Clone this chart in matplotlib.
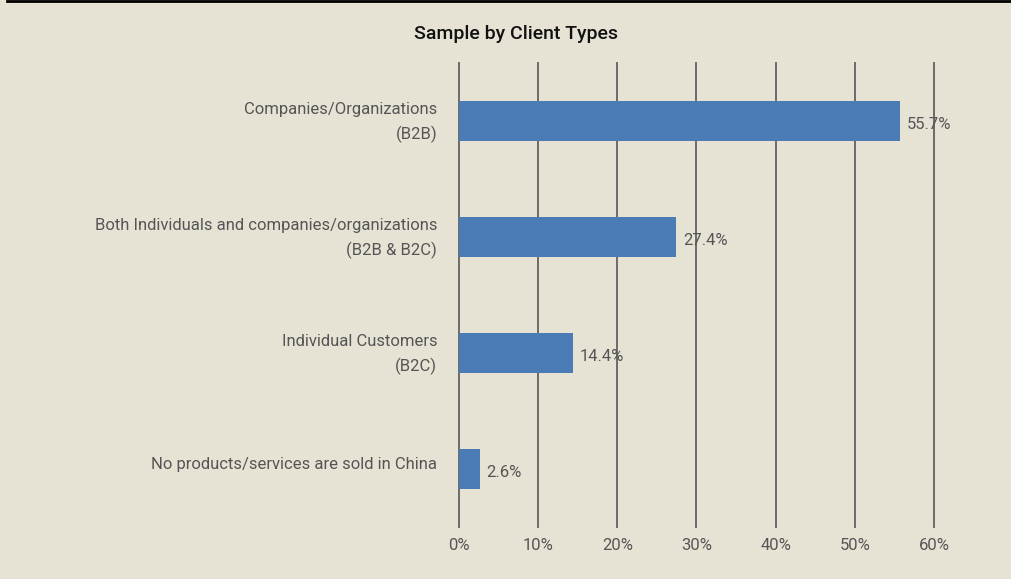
import matplotlib
matplotlib.use("Agg")
import matplotlib.pyplot as plt
from matplotlib.ticker import FuncFormatter

categories = [
    "Companies/Organizations\n(B2B)",
    "Both Individuals and companies/organizations\n(B2B & B2C)",
    "Individual Customers\n(B2C)",
    "No products/services are sold in China",
]
values = [55.7, 27.4, 14.4, 2.6]
xticks = [0, 10, 20, 30, 40, 50, 60]

bg = "#E7E3D4"
bar_color = "#4A7BB4"
text_color = "#555555"
plt.rcParams["font.family"] = ["Roboto", "DejaVu Sans"]

fig = plt.figure(figsize=(10.12, 5.79), dpi=100, facecolor=bg)
ax = fig.add_axes([459 / 1012, 1 - 527 / 579, 475 / 1012, 464 / 579])
ax.set_facecolor(bg)

ypos = list(range(len(categories)))
ax.barh(ypos, values, height=0.345, color=bar_color, zorder=3)
for y, v in zip(ypos, values):
    ax.text(v + 0.9, y + 0.03, f"{v:.1f}%", va="center", ha="left",
            fontsize=12, color=text_color, zorder=4)

# category labels, drawn as text so they can sit slightly above the bar centre
ytrans = ax.get_yaxis_transform()
for y, cat in zip(ypos, categories):
    dy = 0.012 if "\n" in cat else -0.037
    ax.text(-0.046, y + dy, cat, transform=ytrans, ha="right", va="center",
            multialignment="right", fontsize=12, color=text_color,
            linespacing=1.65)

ax.set_xlim(0, 60)
ax.set_ylim(3.5, -0.5)
ax.set_xticks(xticks)
ax.xaxis.set_major_formatter(FuncFormatter(lambda x, _: f"{x:.0f}%"))
ax.set_yticks([])
ax.tick_params(axis="x", length=0, pad=8, labelsize=12, labelcolor=text_color)
ax.grid(axis="x", color="#6B6B6B", linewidth=1.4, zorder=1)
for gl in ax.get_xgridlines():
    gl.set_clip_on(False)
for s in ax.spines.values():
    s.set_visible(False)

fig.text(516 / 1012, 1 - 34 / 579, "Sample by Client Types", ha="center",
         va="center", fontsize=14, color="#111111", fontweight="medium")
fig.add_artist(plt.Line2D([7 / 1012, 1], [0.999, 0.999], color="black",
                          linewidth=2, transform=fig.transFigure))

fig.savefig("out.png", dpi=100, facecolor=bg)
